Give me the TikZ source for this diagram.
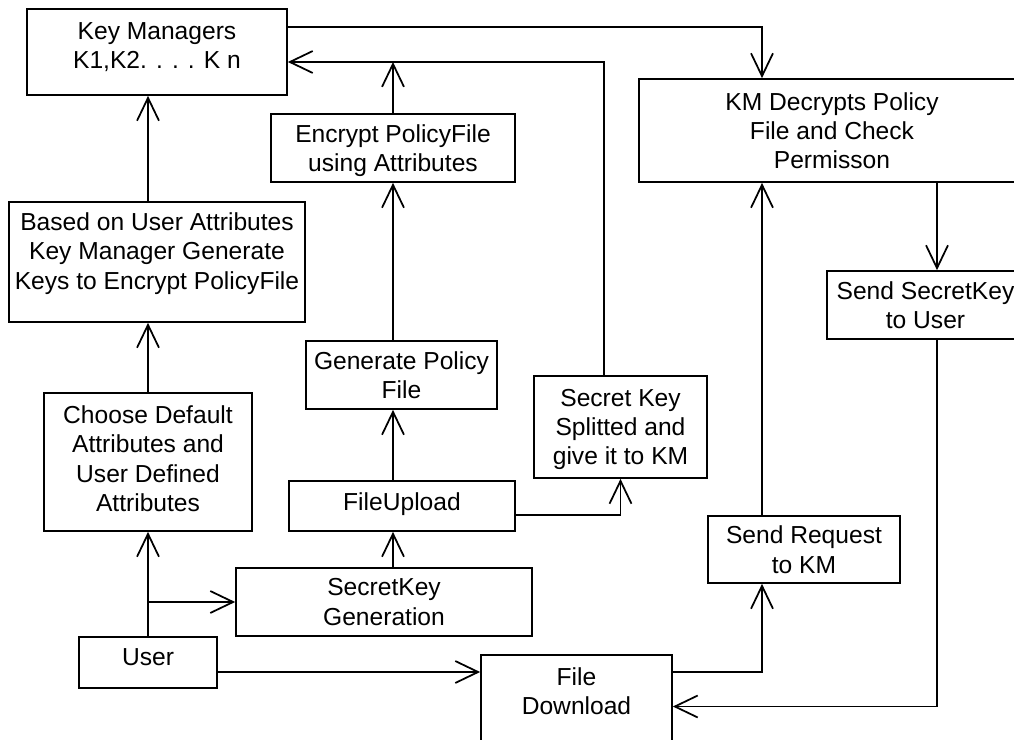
\documentclass[tikz,border=0pt]{standalone}
\usepackage{fontspec}
\setmainfont{Liberation Sans}
\usetikzlibrary{arrows.meta,calc}

\begin{document}
\begin{tikzpicture}[x=0.02cm,y=-0.02cm,
		box/.style={draw,line width=1pt,inner sep=0pt,align=center,text depth=0pt,
			font=\fontsize{14}{16.7}\selectfont},
		lift/.style={text depth=#1},
		flow/.style={line width=1pt,-{Straight Barb[length=13pt,width=12.5pt]}}]
		\useasboundingbox (0,0) rectangle (1014,740);
		\node[box,minimum width=5.2cm,minimum height=1.72cm,lift=7.4pt] (KM) at (157,52) {Key Managers\\K1,K2. . . . K n};
		\node[box,minimum width=5.92cm,minimum height=2.4cm,lift=12.5pt] (Based) at (157,262) {Based on User Attributes\\Key Manager Generate\\Keys to Encrypt PolicyFile};
		\node[box,minimum width=4.16cm,minimum height=2.76cm,lift=4pt] (Choose) at (148,462) {Choose Default\\Attributes and\\User Defined\\Attributes};
		\node[box,minimum width=2.76cm,minimum height=1.02cm,lift=5.7pt] (User) at (148,662.5) {User};
		\node[box,minimum width=5.92cm,minimum height=1.36cm] (SKGen) at (384,602) {SecretKey\\Generation};
		\node[box,minimum width=4.52cm,minimum height=1cm,lift=4.5pt] (FileUp) at (402,506) {FileUpload};
		\node[box,minimum width=3.82cm,minimum height=1.36cm] (Gen) at (401.5,375) {Generate Policy\\File};
		\node[box,minimum width=4.88cm,minimum height=1.36cm] (Enc) at (393,148) {Encrypt PolicyFile\\using Attributes};
		\node[box,minimum width=3.46cm,minimum height=2.04cm] (Split) at (620.5,427) {Secret Key\\Splitted and\\give it to KM};
		\node[box,minimum width=7.72cm,minimum height=2.06cm] (KMD) at (832,130.5) {KM Decrypts Policy\\File and Check\\Permisson};
		\node[box,minimum width=3.94cm,minimum height=1.36cm] (SendSK) at (925.5,305) {Send SecretKey\\to User};
		\node[box,minimum width=3.84cm,minimum height=1.34cm] (SendReq) at (804,549.5) {Send Request\\to KM};
		\node[box,minimum width=3.82cm,minimum height=2.06cm,lift=17.6pt] (FD) at (576.5,706.5) {File\\Download};
%
		\coordinate (kmin) at ($(KM.east)+(0,10)$);
		\coordinate (col) at ($(KMD.north)+(-70,0)$);
		\coordinate (skx) at ($(SendSK.north)+(11.5,0)$);
		\coordinate (dl) at ($(User.east)+(0,9.5)$);
%
		\draw[flow] (Based.north -| Choose.north) -- (KM.south -| Choose.north);
		\draw[flow] (Choose.north) -- (Based.south -| Choose.north);
		\draw[flow] (User.north) -- (Choose.south);
		\draw[flow] (User.north |- SKGen.west) -- (SKGen.west);
		\draw[flow] (SKGen.north -| Enc.south) -- (FileUp.south -| Enc.south);
		\draw[flow] (FileUp.north -| Enc.south) -- (Gen.south -| Enc.south);
		\draw[flow] (Gen.north -| Enc.south) -- (Enc.south);
		\draw[flow] (Enc.north) -- (Enc.north |- kmin);
		\draw[flow] ($(Split.north)+(-16.5,0)$) |- (kmin);
		\draw[flow] ($(FileUp.east)+(0,9)$) -| (Split.south);
		\draw[flow] ($(KM.east)+(0,-25)$) -| (col);
		\draw[flow] (SendReq.north -| col) -- (KMD.south -| col);
		\draw[flow] (KMD.south -| skx) -- (skx);
		\draw[flow] (SendSK.south -| skx) |- (FD.east);
		\draw[flow] (dl) -- (FD.west |- dl);
		\draw[flow] (FD.east |- dl) -| (SendReq.south -| col);
	\end{tikzpicture}
\end{document}
